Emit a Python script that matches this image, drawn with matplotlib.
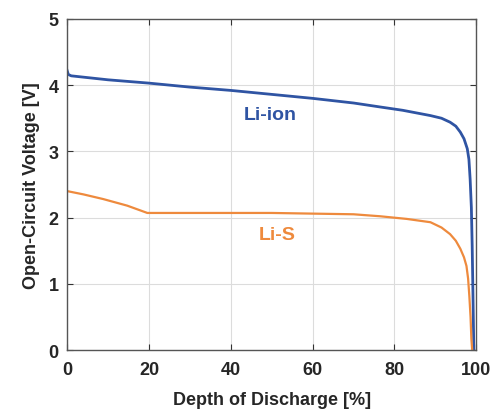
import matplotlib
matplotlib.use("Agg")
import matplotlib.pyplot as plt

# Depth of discharge [%] and open-circuit voltage [V]
li_ion_dod = [0, 0.3, 1, 10, 20, 30, 40, 50, 60, 70, 76.5, 82, 88.8, 91.5, 93.6, 95, 96.1, 97, 97.8, 98.2, 98.5, 98.8, 99.0, 99.2, 99.4]
li_ion_ocv = [4.22, 4.16, 4.14, 4.08, 4.03, 3.97, 3.92, 3.86, 3.80, 3.73, 3.67, 3.62, 3.54, 3.50, 3.44, 3.38, 3.29, 3.19, 3.04, 2.88, 2.58, 2.15, 1.57, 0.8, 0.0]

li_s_dod = [0, 4, 8.8, 14.7, 19.6, 30, 40, 50, 60, 70, 76.5, 83, 88.8, 91.5, 93.6, 95, 96.1, 97, 97.6, 98.0, 98.3, 98.6, 98.8, 99.0]
li_s_ocv = [2.40, 2.35, 2.28, 2.18, 2.07, 2.07, 2.07, 2.07, 2.06, 2.05, 2.02, 1.98, 1.93, 1.85, 1.75, 1.65, 1.53, 1.40, 1.27, 1.08, 0.82, 0.50, 0.17, 0.0]

blue = "#2f54a3"
orange = "#ee8a3d"

plt.rcParams["font.family"] = ["Liberation Sans", "DejaVu Sans"]
plt.rcParams["font.weight"] = "bold"

fig = plt.figure(figsize=(4.9, 4.14), dpi=100)
ax = fig.add_axes([0.137, 0.152, 0.835, 0.80])

ax.plot(li_ion_dod, li_ion_ocv, color=blue, lw=2)
ax.plot(li_s_dod, li_s_ocv, color=orange, lw=1.6)

ax.text(49.6, 3.55, "Li-ion", color=blue, fontsize=14, fontweight="bold", ha="center", va="center")
ax.text(51.3, 1.74, "Li-S", color=orange, fontsize=14, fontweight="bold", ha="center", va="center")

ax.set_xlim(0, 100)
ax.set_ylim(0, 5)
ax.set_xticks([0, 20, 40, 60, 80, 100])
ax.set_yticks([0, 1, 2, 3, 4, 5])
ax.grid(True, color="#dcdcdc", lw=0.8)
ax.tick_params(direction="in", top=True, right=True, length=4, colors="#333333",
               labelsize=13, labelcolor="#262626")
ax.tick_params(axis="x", pad=8)
ax.tick_params(axis="y", pad=6)
for lab in ax.get_xticklabels() + ax.get_yticklabels():
    lab.set_fontweight("bold")
for s in ax.spines.values():
    s.set_color("#555555")
    s.set_linewidth(1.0)

ax.set_xlabel("Depth of Discharge [%]", fontsize=13, fontweight="bold", color="#262626", labelpad=9)
ax.set_ylabel("Open-Circuit Voltage [V]", fontsize=13, fontweight="bold", color="#262626", labelpad=6)

fig.savefig("out.png", dpi=100)
